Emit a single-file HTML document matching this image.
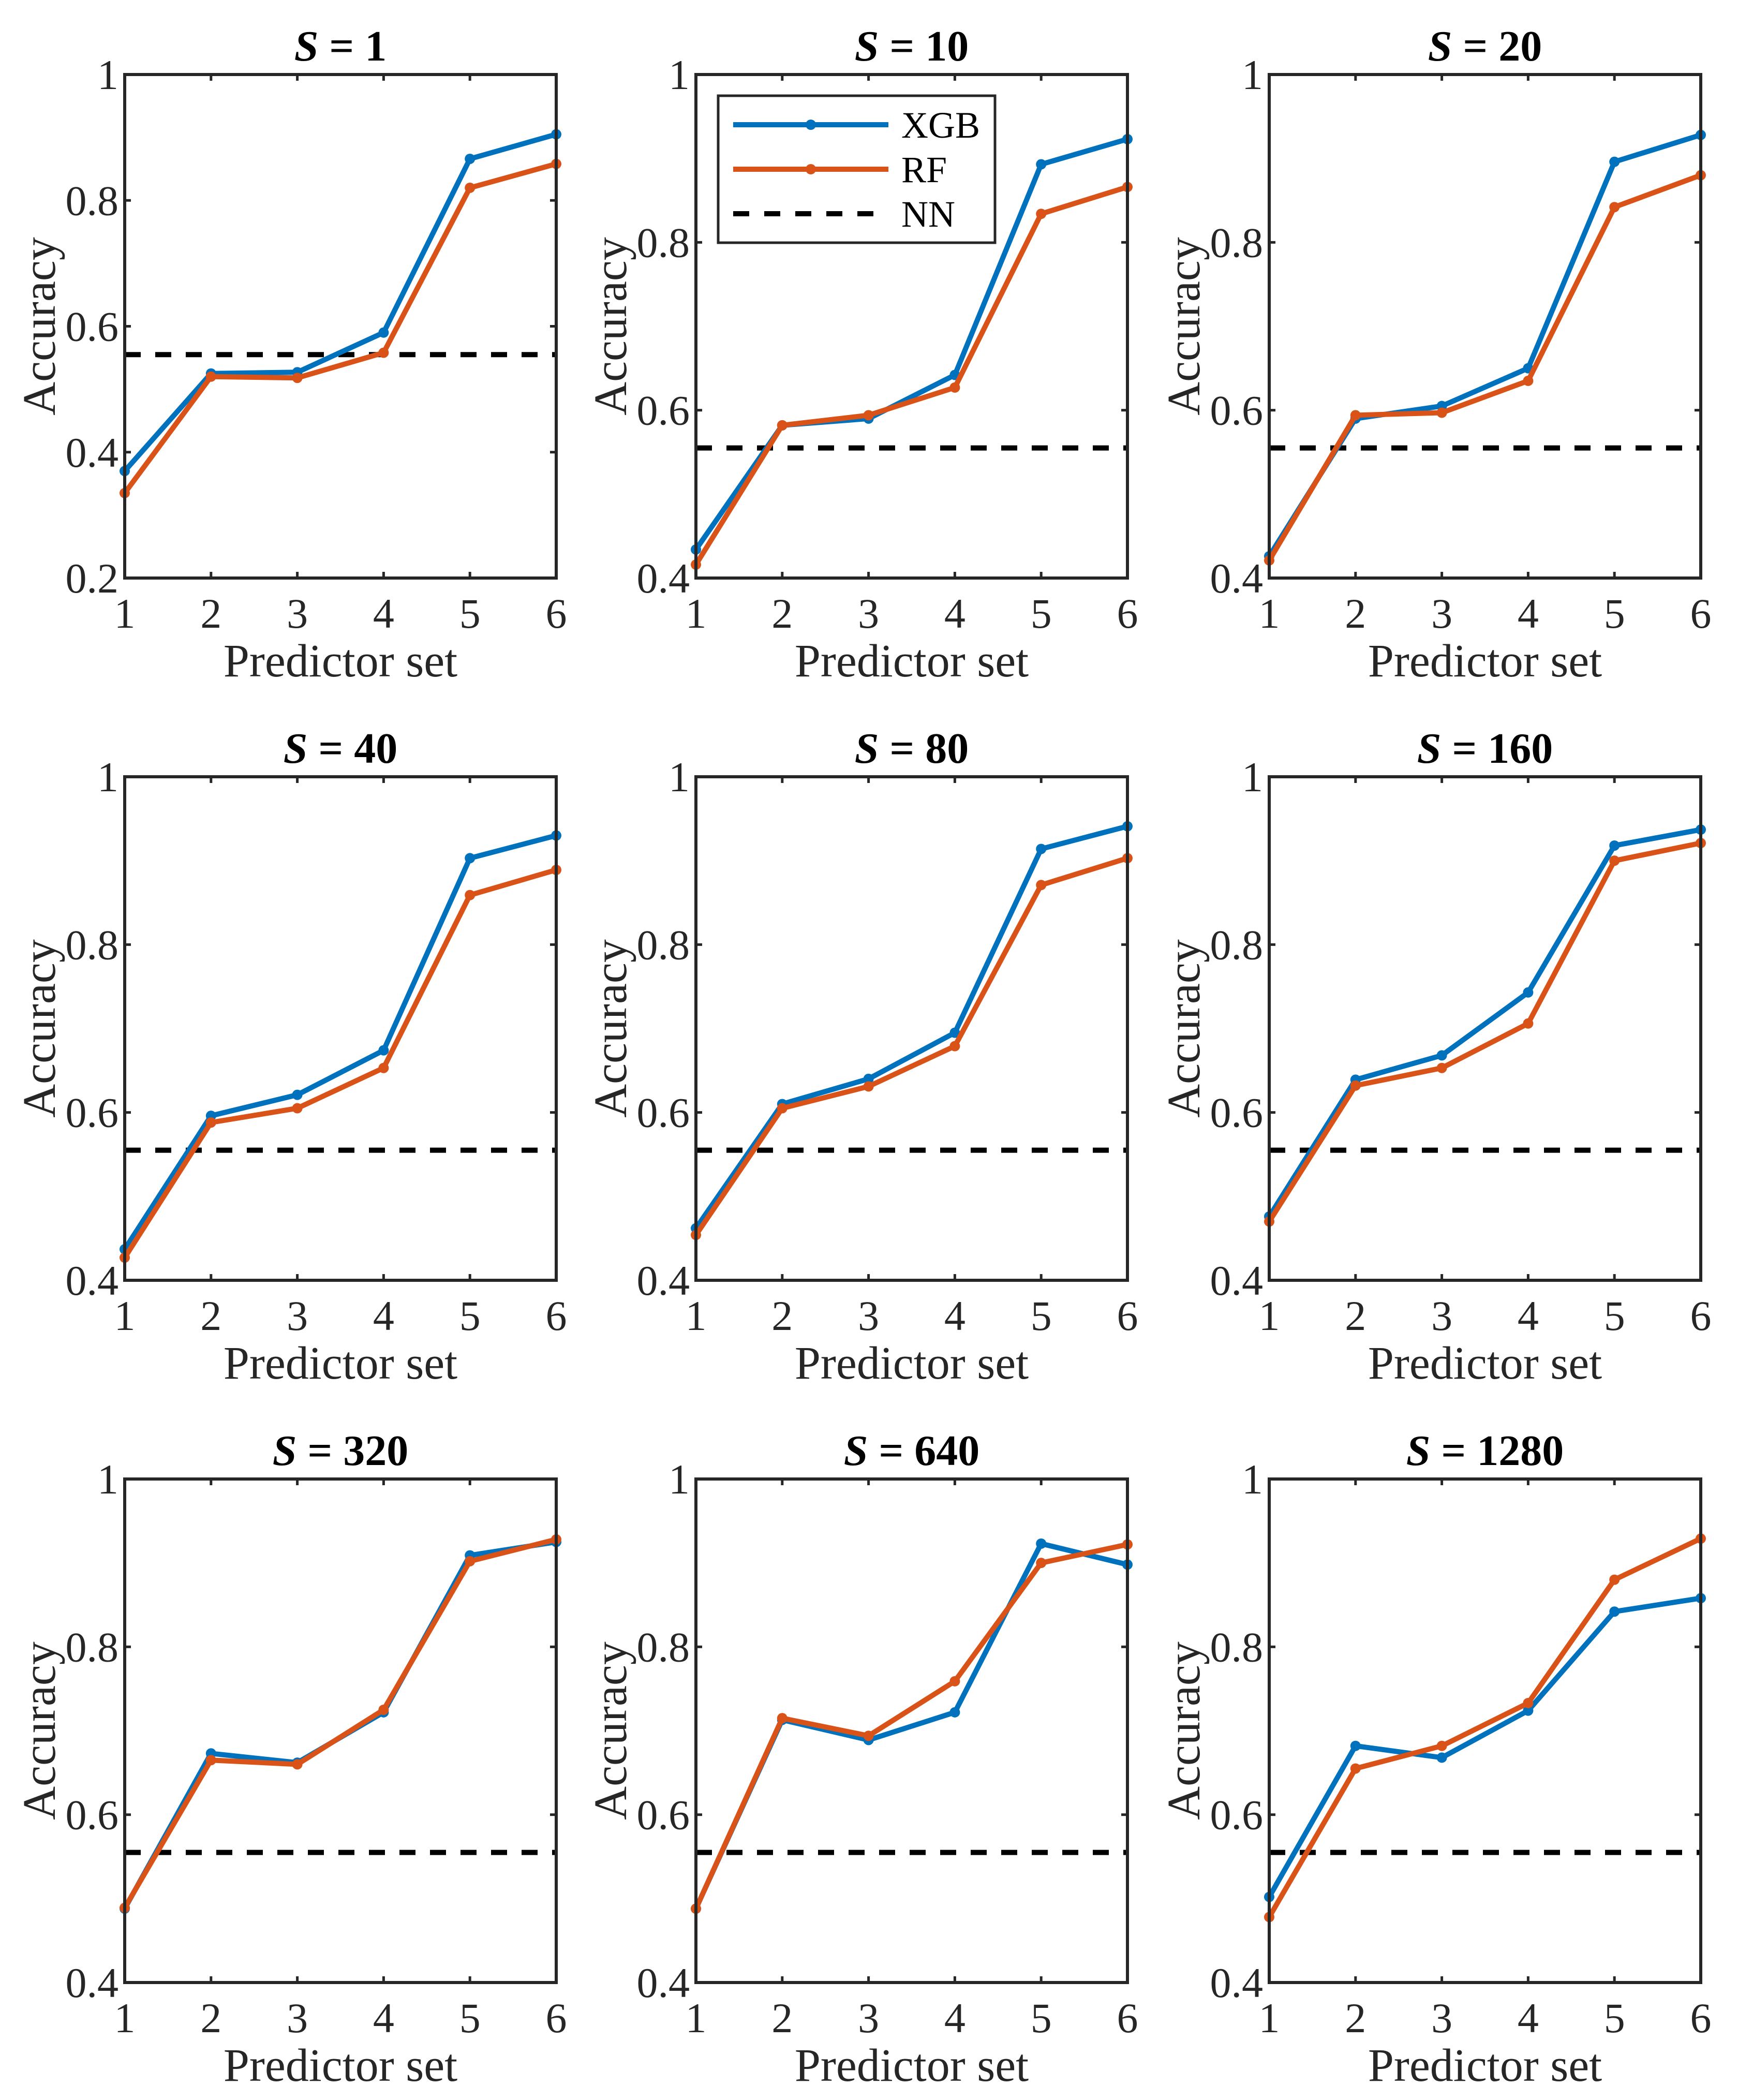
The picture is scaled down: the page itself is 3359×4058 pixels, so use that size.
<!DOCTYPE html>
<html><head><meta charset="utf-8"><style>
html,body{margin:0;padding:0;background:#fff;}
svg{display:block;font-family:"Liberation Serif","Times New Roman",serif;}
</style></head><body>
<svg id="fig" width="3359" height="4058" viewBox="0 0 3359 4058" xmlns="http://www.w3.org/2000/svg"></svg>
<script>
const titles = ["1","10","20","40","80","160","320","640","1280"];
const categories = [1,2,3,4,5,6];
const nnValue = 0.555;
const xgb1 = [0.37,0.525,0.527,0.59,0.866,0.905];
const rf1  = [0.335,0.52,0.518,0.558,0.82,0.858];
const xgb2 = [0.434,0.582,0.59,0.642,0.893,0.923];
const rf2  = [0.416,0.582,0.594,0.627,0.834,0.866];
const xgb3 = [0.426,0.59,0.605,0.65,0.896,0.928];
const rf3  = [0.421,0.594,0.597,0.635,0.842,0.88];
const xgb4 = [0.437,0.596,0.621,0.674,0.903,0.93];
const rf4  = [0.427,0.588,0.605,0.653,0.859,0.889];
const xgb5 = [0.462,0.61,0.64,0.695,0.914,0.941];
const rf5  = [0.454,0.605,0.631,0.679,0.871,0.903];
const xgb6 = [0.476,0.639,0.668,0.743,0.918,0.937];
const rf6  = [0.47,0.632,0.653,0.706,0.9,0.921];
const xgb7 = [0.488,0.673,0.662,0.722,0.909,0.925];
const rf7  = [0.489,0.665,0.66,0.725,0.902,0.928];
const xgb8 = [0.488,0.713,0.689,0.722,0.923,0.898];
const rf8  = [0.488,0.715,0.694,0.759,0.9,0.922];
const xgb9 = [0.502,0.682,0.668,0.724,0.842,0.858];
const rf9  = [0.478,0.655,0.682,0.733,0.88,0.929];
const xgbSeries = [xgb1,xgb2,xgb3,xgb4,xgb5,xgb6,xgb7,xgb8,xgb9];
const rfSeries = [rf1,rf2,rf3,rf4,rf5,rf6,rf7,rf8,rf9];
const yTicks1 = [0.2,0.4,0.6,0.8,1];
const yTicksOther = [0.4,0.6,0.8,1];
const yTickLabels1 = ["0.2","0.4","0.6","0.8","1"];
const yTickLabelsOther = ["0.4","0.6","0.8","1"];

const NS = "http://www.w3.org/2000/svg";
const svg = document.getElementById('fig');
function mk(tag, attrs, parent){
  const e = document.createElementNS(NS, tag);
  for (const k in attrs) e.setAttribute(k, attrs[k]);
  (parent||svg).appendChild(e);
  return e;
}
const colLeft = [241,1345,2453];
const rowTop = [144,1501,2858];
const W = 834, H = 973;
const BLUE = "#0072BD", ORANGE = "#D95319", AX = "#262626";

for (let p = 0; p < 9; p++) {
  const L = colLeft[p%3], T = rowTop[Math.floor(p/3)];
  const g = mk('g', {});
  
  
  const ymin = p === 0 ? 0.2 : 0.4, ymax = 1;
  const xs = v => L + (v - 1) / 5 * W;
  const ys = v => T + H - (v - ymin) / (ymax - ymin) * H;
  const yt = p === 0 ? yTicks1 : yTicksOther;
  const ytl = p === 0 ? yTickLabels1 : yTickLabelsOther;

  const nn = mk('line', {x1:L, x2:L+W, y1:ys(nnValue), y2:ys(nnValue), stroke:'#000', 'stroke-width':10, 'stroke-dasharray':'31 28'}, g);
  
  

  [[xgbSeries[p], BLUE, 'xgb'], [rfSeries[p], ORANGE, 'rf']].forEach(([vals, col, nm]) => {
    const pts = vals.map((v,i) => xs(categories[i]) + ',' + ys(v)).join(' ');
    const pl = mk('polyline', {points:pts, fill:'none', stroke:col, 'stroke-width':10, 'stroke-linejoin':'round'}, g);
    
    
    vals.forEach((v,i) => {
      const c = mk('circle', {cx:xs(categories[i]), cy:ys(v), r:10, fill:col}, g);
      
      
    });
  });

  const box = mk('rect', {x:L, y:T, width:W, height:H, fill:'none', stroke:AX, 'stroke-width':6}, g);
  
  

  categories.forEach(c => {
    const x = xs(c);
    mk('line', {x1:x, x2:x, y1:T+H, y2:T+H-12, stroke:AX, 'stroke-width':5}, g);
    mk('line', {x1:x, x2:x, y1:T, y2:T+12, stroke:AX, 'stroke-width':5}, g);
    const t = mk('text', {x:x, y:T+H+96, 'text-anchor':'middle', 'font-size':82, fill:AX}, g);
    t.textContent = String(c);
    
    
  });
  yt.forEach((v,i) => {
    const y = ys(v);
    mk('line', {x1:L, x2:L+12, y1:y, y2:y, stroke:AX, 'stroke-width':5}, g);
    mk('line', {x1:L+W, x2:L+W-12, y1:y, y2:y, stroke:AX, 'stroke-width':5}, g);
    const t = mk('text', {x:L-12, y:y+28, 'text-anchor':'end', 'font-size':82, fill:AX}, g);
    t.textContent = ytl[i];
    
    
  });
  const xt = mk('text', {x:L+W/2, y:T+H+190, 'text-anchor':'middle', 'font-size':90, fill:AX}, g);
  xt.textContent = 'Predictor set';
  
  
  const yx = L - 165, yy = T + H/2;
  const ytt = mk('text', {x:yx, y:yy, 'text-anchor':'middle', 'font-size':90, fill:AX, transform:'rotate(-90 '+yx+' '+(yy)+')', dy:30}, g);
  ytt.textContent = 'Accuracy';
  
  
  const tt = mk('text', {x:L+W/2, y:T-27, 'text-anchor':'middle', 'font-size':84, 'font-weight':'bold', fill:'#000'}, g);
  const ts = mk('tspan', {'font-style':'italic'}, tt);
  ts.textContent = 'S';
  const tr = mk('tspan', {}, tt);
  tr.textContent = ' = ' + titles[p];
  
  
}

const lg = mk('g', {});


mk('rect', {x:1388, y:185, width:535, height:284, fill:'#fff', stroke:AX, 'stroke-width':5}, lg);
const legItems = [['XGB', BLUE, false, 241], ['RF', ORANGE, false, 327], ['NN', '#000', true, 413]];
legItems.forEach(([name, col, dash, y]) => {
  const e = mk('g', {}, lg);
  
  
  if (dash) {
    mk('line', {x1:1417, x2:1717, y1:y, y2:y, stroke:col, 'stroke-width':10, 'stroke-dasharray':'31 29'}, e);
  } else {
    mk('line', {x1:1417, x2:1717, y1:y, y2:y, stroke:col, 'stroke-width':10}, e);
    mk('circle', {cx:1567, cy:y, r:10, fill:col}, e);
  }
  const t = mk('text', {x:1742, y:y+25, 'font-size':72, fill:'#000'}, e);
  t.textContent = name;
});
</script>
</body></html>
